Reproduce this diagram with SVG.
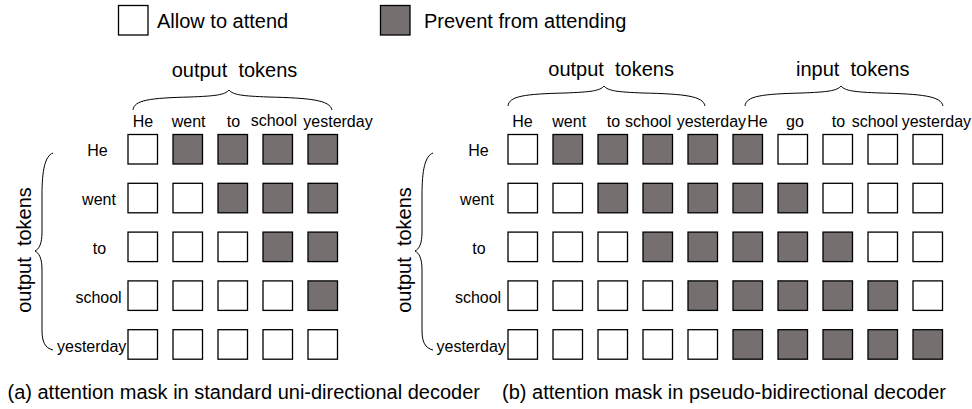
<svg xmlns="http://www.w3.org/2000/svg" width="972" height="409" viewBox="0 0 972 409">
<style>
text{font-family:"Liberation Sans",Arial,sans-serif;fill:#000}
.big{font-size:20px}
.sm{font-size:16px}
.rl{font-size:16px;text-anchor:middle}
.w{fill:#fff;stroke:#000;stroke-width:1.3}
.g{fill:#75706f;stroke:#000;stroke-width:1.3}
.br{fill:none;stroke:#000;stroke-width:1}
</style>
<defs>
<rect id="cw" class="w" width="29.5" height="29.5"/>
<rect id="cg" class="g" width="29.5" height="29.5"/>
</defs>
<rect width="972" height="409" fill="#fff"/>

<g id="legend">
<g id="legend-allow"><use href="#cw" x="118.5" y="5.5"/><text class="big" x="157" y="28">Allow to attend</text></g>
<g id="legend-prevent"><use href="#cg" x="380.5" y="5.5"/><text class="big" x="424" y="28">Prevent from attending</text></g>
</g>

<g id="braces">
<path class="br" d="M133,110 C134,100 150,98 190,97 C215,96 225,95 229,90 C233,95 243,96 268,97 C310,98 330,100 332,110"/>
<path class="br" d="M508,106 C509,96 525,94 565,93 C590,92 600,91 604,86 C608,91 618,92 643,93 C685,94 703,96 705,106"/>
<path class="br" d="M745,106 C746,96 762,94 802,93 C827,92 837,91 841,86 C845,91 855,92 880,93 C922,94 941,96 943,106"/>
<path class="br" d="M53,153 C45,156 42,170 42,195 L42,232 C42,244 39,249 35,251 C39,253 42,258 42,270 L42,330 C42,342 45,348 53,350"/>
<path class="br" d="M433,153 C425,156 422,170 422,195 L422,232 C422,244 419,249 415,251 C419,253 422,258 422,270 L422,330 C422,342 425,348 433,350"/>
</g>

<g id="grid-a">
<g id="a-labels">
<text class="big" x="171.7" y="77" xml:space="preserve">output  tokens</text>
<text class="big" transform="translate(31,250) rotate(-90)" text-anchor="middle" xml:space="preserve">output  tokens</text>
<text class="sm" x="132.7" y="126.5">He</text>
<text class="sm" x="171.7" y="126.5">went</text>
<text class="sm" x="226.7" y="126.5">to</text>
<text class="sm" x="250.7" y="125.5">school</text>
<text class="sm" x="303.3" y="126.5">yesterday</text>
<text class="rl" x="97.5" y="156">He</text>
<text class="rl" x="99" y="205">went</text>
<text class="rl" x="99.5" y="253.5">to</text>
<text class="rl" x="98.5" y="302.5">school</text>
<text class="sm" x="57" y="351.5">yesterday</text>
</g>
<g id="a-row1"><use href="#cw" x="128" y="134.5"/><use href="#cg" x="173" y="134.5"/><use href="#cg" x="218" y="134.5"/><use href="#cg" x="263" y="134.5"/><use href="#cg" x="308" y="134.5"/></g>
<g id="a-row2"><use href="#cw" x="128" y="183.3"/><use href="#cw" x="173" y="183.3"/><use href="#cg" x="218" y="183.3"/><use href="#cg" x="263" y="183.3"/><use href="#cg" x="308" y="183.3"/></g>
<g id="a-row3"><use href="#cw" x="128" y="232.1"/><use href="#cw" x="173" y="232.1"/><use href="#cw" x="218" y="232.1"/><use href="#cg" x="263" y="232.1"/><use href="#cg" x="308" y="232.1"/></g>
<g id="a-row4"><use href="#cw" x="128" y="280.9"/><use href="#cw" x="173" y="280.9"/><use href="#cw" x="218" y="280.9"/><use href="#cw" x="263" y="280.9"/><use href="#cg" x="308" y="280.9"/></g>
<g id="a-row5"><use href="#cw" x="128" y="329.7"/><use href="#cw" x="173" y="329.7"/><use href="#cw" x="218" y="329.7"/><use href="#cw" x="263" y="329.7"/><use href="#cw" x="308" y="329.7"/></g>
</g>

<g id="grid-b">
<g id="b-labels">
<text class="big" x="548.3" y="76" xml:space="preserve">output  tokens</text>
<text class="big" x="796" y="76" xml:space="preserve">input  tokens</text>
<text class="big" transform="translate(411,250) rotate(-90)" text-anchor="middle" xml:space="preserve">output  tokens</text>
<text class="sm" x="512.3" y="126.5">He</text>
<text class="sm" x="552.3" y="126.5">went</text>
<text class="sm" x="606.7" y="126.5">to</text>
<text class="sm" x="625" y="126.5">school</text>
<text class="sm" x="676.7" y="126.5">yesterday</text>
<text class="sm" x="747.3" y="126.5">He</text>
<text class="sm" x="786" y="126.5">go</text>
<text class="sm" x="831.7" y="126.5">to</text>
<text class="sm" x="851.7" y="126.5">school</text>
<text class="sm" x="901.7" y="126.5">yesterday</text>
<text class="rl" x="478.5" y="156">He</text>
<text class="rl" x="477" y="205">went</text>
<text class="rl" x="479" y="253.5">to</text>
<text class="rl" x="478" y="302.5">school</text>
<text class="sm" x="436.5" y="351.5">yesterday</text>
</g>
<g id="b-row1"><use href="#cw" x="508" y="134.5"/><use href="#cg" x="553" y="134.5"/><use href="#cg" x="598" y="134.5"/><use href="#cg" x="643" y="134.5"/><use href="#cg" x="688" y="134.5"/><use href="#cg" x="733" y="134.5"/><use href="#cw" x="778" y="134.5"/><use href="#cw" x="823" y="134.5"/><use href="#cw" x="868" y="134.5"/><use href="#cw" x="913" y="134.5"/></g>
<g id="b-row2"><use href="#cw" x="508" y="183.3"/><use href="#cw" x="553" y="183.3"/><use href="#cg" x="598" y="183.3"/><use href="#cg" x="643" y="183.3"/><use href="#cg" x="688" y="183.3"/><use href="#cg" x="733" y="183.3"/><use href="#cg" x="778" y="183.3"/><use href="#cw" x="823" y="183.3"/><use href="#cw" x="868" y="183.3"/><use href="#cw" x="913" y="183.3"/></g>
<g id="b-row3"><use href="#cw" x="508" y="232.1"/><use href="#cw" x="553" y="232.1"/><use href="#cw" x="598" y="232.1"/><use href="#cg" x="643" y="232.1"/><use href="#cg" x="688" y="232.1"/><use href="#cg" x="733" y="232.1"/><use href="#cg" x="778" y="232.1"/><use href="#cg" x="823" y="232.1"/><use href="#cw" x="868" y="232.1"/><use href="#cw" x="913" y="232.1"/></g>
<g id="b-row4"><use href="#cw" x="508" y="280.9"/><use href="#cw" x="553" y="280.9"/><use href="#cw" x="598" y="280.9"/><use href="#cw" x="643" y="280.9"/><use href="#cg" x="688" y="280.9"/><use href="#cg" x="733" y="280.9"/><use href="#cg" x="778" y="280.9"/><use href="#cg" x="823" y="280.9"/><use href="#cg" x="868" y="280.9"/><use href="#cw" x="913" y="280.9"/></g>
<g id="b-row5"><use href="#cw" x="508" y="329.7"/><use href="#cw" x="553" y="329.7"/><use href="#cw" x="598" y="329.7"/><use href="#cw" x="643" y="329.7"/><use href="#cw" x="688" y="329.7"/><use href="#cg" x="733" y="329.7"/><use href="#cg" x="778" y="329.7"/><use href="#cg" x="823" y="329.7"/><use href="#cg" x="868" y="329.7"/><use href="#cg" x="913" y="329.7"/></g>
</g>

<g id="captions">
<text class="big" x="7.5" y="399">(a) attention mask in standard uni-directional decoder</text>
<text class="big" x="502" y="399" textLength="444" lengthAdjust="spacing">(b) attention mask in pseudo-bidirectional decoder</text>
</g>
</svg>
